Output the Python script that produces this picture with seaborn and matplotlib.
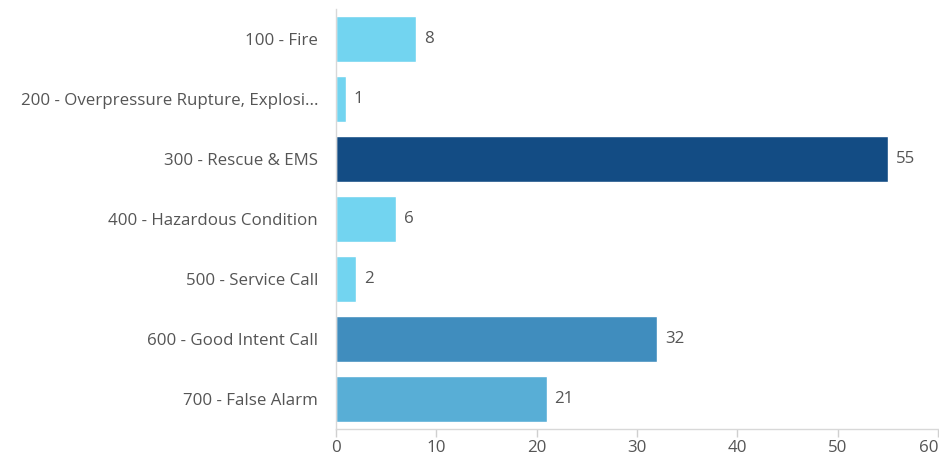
import matplotlib
matplotlib.use("Agg")
import matplotlib.pyplot as plt
import seaborn as sns
import pandas as pd

categories = [
    "100 - Fire",
    "200 - Overpressure Rupture, Explosi...",
    "300 - Rescue & EMS",
    "400 - Hazardous Condition",
    "500 - Service Call",
    "600 - Good Intent Call",
    "700 - False Alarm",
]
counts = [8, 1, 55, 6, 2, 32, 21]
bar_colors = ["#72D4F0", "#72D4F0", "#134C84", "#72D4F0", "#72D4F0", "#408DBE", "#58AED6"]
x_ticks = [0, 10, 20, 30, 40, 50, 60]

sns.set_theme(style="white")
plt.rcParams["font.family"] = ["Open Sans", "DejaVu Sans"]

df = pd.DataFrame({"category": categories, "count": counts})

fig = plt.figure(figsize=(9.39, 4.61), dpi=100)
ax = fig.add_axes([0.358, 0.069, 0.641, 0.912])

sns.barplot(
    data=df, x="count", y="category", hue="category",
    palette=bar_colors, order=categories, hue_order=categories,
    orient="h", width=0.77, legend=False, ax=ax, saturation=1,
)

text_color = "#555555"
font_size = 12.2
for container in ax.containers:
    ax.bar_label(container, fmt="%d", padding=5.5, fontsize=font_size, color=text_color)

ax.set_xlim(0, 60)
ax.set_xticks(x_ticks)
ax.set_xlabel("")
ax.set_ylabel("")

for side in ["top", "right"]:
    ax.spines[side].set_visible(False)
for side in ["left", "bottom"]:
    ax.spines[side].set_color("#d8d8d8")
    ax.spines[side].set_linewidth(1)

ax.tick_params(axis="x", which="both", bottom=True, length=6, width=1,
               color="#d0d0d0", labelsize=font_size, labelcolor=text_color, pad=2)
ax.tick_params(axis="y", left=False, labelsize=font_size, labelcolor=text_color, pad=7)
ax.grid(False)

# keep the last tick label inside the canvas
ax.get_xticklabels()[-1].set_horizontalalignment("right")

fig.savefig("out.png", dpi=100, facecolor="white")
